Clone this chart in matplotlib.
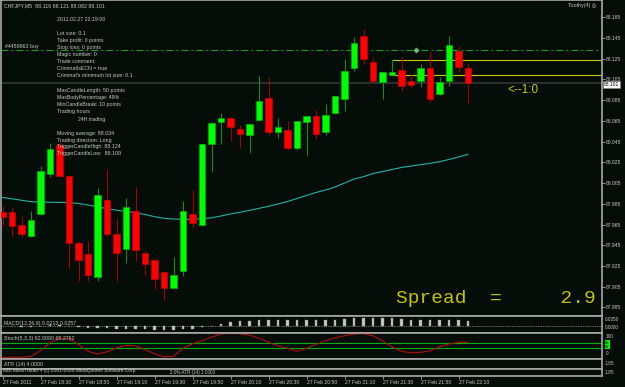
import numpy as np
import matplotlib
matplotlib.use("Agg")
import matplotlib.pyplot as plt

plt.rcParams['font.family'] = ['Liberation Sans', 'DejaVu Sans']

# CHFJPY, M5 - 27 Feb 2011, bars 18:10 .. 22:15
opens = [87.977, 87.977, 87.965, 87.954, 87.975, 88.014, 88.042, 88.012, 87.947, 87.937,
         87.914, 87.989, 87.956, 87.941, 87.978, 87.938, 87.931, 87.919, 87.904, 87.920,
         87.975, 87.965, 88.043, 88.064, 88.068, 88.057, 88.051, 88.066, 88.087, 88.054,
         88.056, 88.039, 88.064, 88.070, 88.054, 88.073, 88.086, 88.116, 88.147, 88.122,
         88.102, 88.109, 88.114, 88.103, 88.103, 88.116, 88.091, 88.103, 88.132, 88.116]
highs = [87.983, 87.982, 87.973, 87.978, 88.021, 88.044, 88.045, 88.013, 87.949, 87.949,
         88.000, 88.019, 87.971, 87.991, 88.001, 87.939, 87.932, 87.920, 87.934, 87.988,
         87.998, 88.044, 88.064, 88.073, 88.069, 88.061, 88.062, 88.108, 88.107, 88.068,
         88.065, 88.065, 88.070, 88.075, 88.081, 88.089, 88.125, 88.146, 88.154, 88.126,
         88.112, 88.124, 88.127, 88.110, 88.120, 88.131, 88.107, 88.147, 88.137, 88.121]
lows = [87.964, 87.954, 87.953, 87.953, 87.974, 88.011, 88.011, 87.922, 87.911, 87.911,
        87.911, 87.954, 87.911, 87.928, 87.930, 87.916, 87.903, 87.892, 87.903, 87.915,
        87.962, 87.964, 88.016, 88.043, 88.046, 88.039, 88.034, 88.065, 88.051, 88.048,
        88.038, 88.037, 88.031, 88.047, 88.051, 88.072, 88.074, 88.113, 88.120, 88.102,
        88.086, 88.109, 88.094, 88.097, 88.098, 88.083, 88.090, 88.099, 88.112, 88.082]
closes = [87.972, 87.964, 87.956, 87.969, 88.017, 88.038, 88.012, 87.947, 87.931, 87.916,
          87.993, 87.956, 87.938, 87.982, 87.940, 87.927, 87.912, 87.904, 87.916, 87.978,
          87.966, 88.043, 88.063, 88.068, 88.059, 88.052, 88.062, 88.084, 88.054, 88.059,
          88.039, 88.065, 88.070, 88.052, 88.071, 88.089, 88.113, 88.140, 88.125, 88.103,
          88.112, 88.112, 88.099, 88.100, 88.116, 88.086, 88.102, 88.138, 88.117, 88.101]

ma_values = [87.9911, 87.9898, 87.9884, 87.9870, 87.9867, 87.9865, 87.9864, 87.9862, 87.9853, 87.9838,
             87.9821, 87.9803, 87.9788, 87.9776, 87.9763, 87.9747, 87.9726, 87.9710, 87.9703, 87.9700,
             87.9701, 87.9705, 87.9715, 87.9732, 87.9752, 87.9768, 87.9787, 87.9806, 87.9826, 87.9848,
             87.9872, 87.9901, 87.9930, 87.9959, 87.9983, 88.0012, 88.0050, 88.0089, 88.0111, 88.0142,
             88.0161, 88.0181, 88.0200, 88.0214, 88.0227, 88.0240, 88.0256, 88.0277, 88.0301, 88.0327]

macd_hist = [0.002, 0.000, -0.002, -0.002, 0.001, 0.004, 0.005, 0.002, -0.003, -0.008,
             -0.009, -0.010, -0.012, -0.012, -0.013, -0.014, -0.016, -0.017, -0.017, -0.014,
             -0.011, -0.005, 0.002, 0.010, 0.015, 0.019, 0.021, 0.024, 0.025, 0.025,
             0.024, 0.023, 0.024, 0.025, 0.025, 0.026, 0.030, 0.033, 0.034, 0.034,
             0.034, 0.031, 0.030, 0.026, 0.025, 0.024, 0.023, 0.023, 0.023, 0.0213]

stoch_main = [4, 4, 4, 8, 30, 62, 80, 78, 55, 28,
              17, 26, 42, 52, 50, 35, 18, 6, 8, 40,
              58, 70, 85, 97, 100, 98, 93, 80, 64, 50,
              40, 28, 40, 56, 70, 82, 90, 97, 99, 90,
              70, 45, 28, 22, 24, 30, 46, 57, 64, 64]
stoch_levels = [60, 40]

time_ticks = list(range(0, 50, 4))
time_labels = ["27 Feb 2011", "27 Feb 18:30", "27 Feb 18:50", "27 Feb 19:10", "27 Feb 19:30",
               "27 Feb 19:50", "27 Feb 20:10", "27 Feb 20:30", "27 Feb 20:50", "27 Feb 21:10",
               "27 Feb 21:30", "27 Feb 21:50", "27 Feb 22:10"]
price_ticks = [88.165, 88.145, 88.125, 88.105, 88.085, 88.065, 88.045, 88.025, 88.005,
               87.985, 87.965, 87.945, 87.925, 87.905, 87.885]

bid = 88.101
order_price = 88.133
order_bar = 43.5
trigger_bar = 41
trigger_high = 88.124
trigger_low = 88.109

info_lines = ["Lot size: 0.1", "Take profit: 0 points", "Stop loss: 0 points", "Magic number: 0",
              "Trade comment:", "CriminalIsECN = true", "Criminal's minimum lot size: 0.1"]
info_lines2 = ["MaxCandleLength: 50 points", "MaxBodyPercentage: 49%", "MinCandleBreak: 10 points",
               "Trading hours"]
info_lines3 = ["Moving average: 88.034", "Trading direction: Long", "TriggerCandleHigh: 88.124",
               "TriggerCandleLow:  88.109"]

# colours
BG = "#040d07"
FRAME = "#a8a8a8"
TXT = "#c8c8c8"
UP, UP_EDGE, UP_WICK = "#00ff00", "#00b000", "#108a10"
DN, DN_EDGE, DN_WICK = "#ff0000", "#c80000", "#a00000"
YEL = "#c8c800"

W, H = 625, 387
fig = plt.figure(figsize=(W / 100, H / 100), dpi=100, facecolor=BG)
XL = (-0.16, 63.1)


def panel(top, bottom):
    ax = fig.add_axes([1 / W, 1 - bottom / H, 601 / W, (bottom - top) / H], facecolor=BG)
    for s in ax.spines.values():
        s.set_color(FRAME)
        s.set_linewidth(1.2)
    ax.set_xlim(*XL)
    ax.tick_params(bottom=False, labelbottom=False, left=False, labelleft=False)
    return ax


def ptext(x, y, s, **kw):
    kw.setdefault("color", TXT)
    kw.setdefault("fontsize", 3.8)
    kw.setdefault("va", "center")
    return fig.text(x / W, 1 - y / H, s, **kw)


# ---- main price panel
ax = panel(0, 316)
ax.set_ylim(87.8768, 88.1815)
x = np.arange(len(opens))
o, h, l, c = map(np.array, (opens, highs, lows, closes))
up = c >= o
dn = ~up

ax.hlines(bid, *XL, color="#363636", lw=1.2, zorder=1)
ax.hlines(order_price, *XL, color="#1fa01f", lw=0.8, linestyles=[(0, (6, 3, 1.5, 3))], zorder=1)
ax.hlines([trigger_high, trigger_low], trigger_bar, XL[1], color=YEL, lw=0.8, zorder=1)
ax.plot(x, ma_values, color="#20b2aa", lw=0.8, zorder=2)

ax.vlines(x[up], l[up], h[up], color=UP_WICK, lw=0.8, zorder=3)
ax.vlines(x[dn], l[dn], h[dn], color=DN_WICK, lw=0.8, zorder=3)
lo = np.minimum(o, c)
bh = np.maximum(np.abs(c - o), 0.0008)
ax.bar(x[up], bh[up], bottom=lo[up], width=0.68, color=UP, edgecolor=UP_EDGE, lw=0.5, zorder=4)
ax.bar(x[dn], bh[dn], bottom=lo[dn], width=0.68, color=DN, edgecolor=DN_EDGE, lw=0.5, zorder=4)
ax.plot([order_bar], [order_price], marker="D", ms=2.6, mfc="#a0a0a0", mec="#40c040", mew=0.6, zorder=5)

ax.yaxis.tick_right()
ax.set_yticks(price_ticks)
ax.set_yticklabels([f"{p:.3f}" for p in price_ticks])
ax.tick_params(axis="y", right=True, labelright=True, length=2, width=0.6, color=FRAME,
               labelsize=3.6, labelcolor=TXT, pad=1)

# ---- MACD panel
ax_m = panel(316, 332.5)
ax_m.set_ylim(-0.0261, 0.0402)
ax_m.axhline(0, color="#d0d0d0", lw=0.5, ls=(0, (1, 1.5)))
ax_m.bar(x, macd_hist, width=0.3, color="#c8c8c8", edgecolor="#909090", lw=0.3)

# ---- Stochastic panel
ax_s = panel(332.5, 359)
ax_s.set_ylim(-2.8, 103.2)
for lv in stoch_levels:
    ax_s.axhline(lv, color="#00b000", lw=0.8)
ax_s.plot(x, stoch_main, color="#b01010", lw=0.8)

# ---- ATR panel and bottom panel
ax_a = panel(359, 368.5)
ax_b = panel(368.5, 375.5)
ax_b.set_xticks(time_ticks)
ax_b.set_xticklabels(time_labels)
ax_b.tick_params(axis="x", bottom=True, labelbottom=True, length=2, width=0.6, color=FRAME,
                 labelsize=3.7, labelcolor=TXT, pad=1)
plt.setp(ax_b.get_xticklabels(), ha="left")

# ---- texts
ptext(4, 6, "CHFJPY,M5  88.116 88.121 88.082 88.101")
ptext(568, 6, "Toothy(4) \u25ce")
ptext(57, 19.3, "2011.02.27 22:19:00")
for k, s in enumerate(info_lines):
    ptext(57, 33.3 + 7.1 * k, s)
for k, s in enumerate(info_lines2):
    ptext(57, 90.7 + 7.1 * k, s)
ptext(78, 119.3, "24H trading")
for k, s in enumerate(info_lines3):
    ptext(57, 133.3 + 6.8 * k, s)
ptext(5, 46.5, "#4459863 buy")
ptext(507, 90, "<--1:0", color=YEL, fontsize=8.5)
ptext(396, 303, "Spread  =     2.9", color="#c4c400", fontsize=14, va="baseline",
      family="Liberation Mono")
ptext(604, 84.5, "88.101", color="#000000", fontsize=3.6,
      bbox=dict(boxstyle="square,pad=0.15", fc="#ffffff", ec="#808080", lw=0.4))

ptext(4, 323.5, "MACD(12,26,9) 0.0213 0.0257")
ptext(605, 319.5, "0.0350", fontsize=3.4)
ptext(605, 327.5, "0.0000", fontsize=3.4)
ptext(4, 338.3, "Stoch(5,3,3) 62.0000 65.2762")
ptext(606, 336.7, "100", fontsize=3.4)
ptext(606, 353.3, "0", fontsize=3.4)
ptext(605, 342.5, "65", color="#000000", fontsize=3.0,
      bbox=dict(boxstyle="square,pad=0.1", fc="#00ff00", ec="none"))
ptext(605, 347.0, "62", color="#000000", fontsize=3.0,
      bbox=dict(boxstyle="square,pad=0.1", fc="#00ff00", ec="none"))
ptext(4, 364.7, "ATR (14) 4.0000")
ptext(605, 363.5, "1.85", fontsize=3.4)
ptext(3, 370.9, "MBI MetaTrader 4 (c) 2001-2008 MetaQuotes Software Corp.", fontsize=3.5)
ptext(170, 372.2, "2.0% ATR (14) 2.0000", fontsize=3.3)
ptext(605, 372.7, "1.85", fontsize=3.4)

fig.savefig("out.png", dpi=100, facecolor=BG)
